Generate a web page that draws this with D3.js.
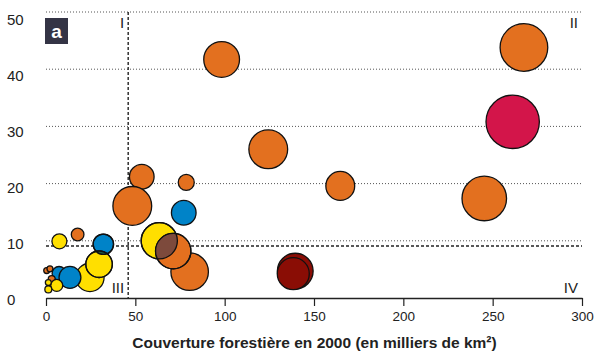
<!DOCTYPE html>
<html>
<head>
<meta charset="utf-8">
<script src="https://cdn.jsdelivr.net/npm/d3@7"></script>
<style>
  html, body { margin: 0; padding: 0; background: #fff; }
  svg { display: block; font-family: "Liberation Sans", Arial, Helvetica, sans-serif; }
</style>
</head>
<body>
<svg id="chart" width="594" height="352"></svg>
<script>
// Couverture forestière (milliers de km²) en abscisse, indicateur en ordonnée
const couverture = [98.3, 267.5, 261.2, 124.4, 164.7, 245.3, 78.5, 77.1, 53.6, 48.3,
                    80.4, 63.4, 71.2, 139.5, 138.4, 7.5, 17.7, 32.1, 24.6, 29.7,
                    7.3, 13.4, 0.4, 2.2, 3.2, 6.0, 1.3, 1.3];
const indicateur = [41.7, 43.8, 30.8, 26.0, 19.6, 17.4, 20.2, 14.9, 21.2, 16.1,
                    4.6, 10.0, 8.2, 4.7, 4.25, 9.9, 11.1, 9.4, 3.6, 5.9,
                    4.3, 3.6, 4.8, 5.1, 3.3, 2.2, 2.7, 1.5];
const taille = [40, 71, 89, 47, 26, 62, 8, 19, 19, 47,
                44, 41, 39, 40, 32, 7, 5, 13, 25, 22,
                6, 15, 1.1, 1.1, 1.5, 4.5, 1.1, 1.5];
const groupe = ["orange", "orange", "rouge", "orange", "orange", "orange", "orange", "bleu", "orange", "orange",
                "orange", "jaune", "orange", "bordeaux", "bordeaux", "jaune", "orange", "bleu", "jaune", "jaune",
                "bleu", "bleu", "orange", "orange", "orange", "jaune", "jaune", "jaune"];
// Paires de cercles dont la zone commune est teintée
const chevauchements = [[11, 12, "#7d4a3c"], [19, 17, "#1d5a4b"]];

const groupes = ["orange", "rouge", "jaune", "bleu", "bordeaux"];
const couleursGroupes = ["#e3701f", "#d3154a", "#ffdf00", "#0083c8", "#8a0d05"];

const xTicks = [0, 50, 100, 150, 200, 250, 300];
const yTicks = [0, 10, 20, 30, 40, 50];
const grilleY = [10, 20, 30, 40, 50];
const seuilX = 46;     // ligne verticale de partage
const seuilY = 9.1;    // ligne horizontale de partage
const quadrants = [["I", 46, 50], ["II", 300, 50], ["III", 46, 0], ["IV", 300, 0]];

const svg = d3.select("#chart");
const x = d3.scaleLinear().domain([0, 300]).range([46, 582]);
const y = d3.scaleLinear().domain([0, 50]).range([298, 12]);
const yLabel = d3.scaleLinear().domain([0, 50]).range([304.5, 24.5]);
const r = d3.scaleSqrt().domain([0, 200]).range([0, 40]);
const color = d3.scaleOrdinal().domain(groupes).range(couleursGroupes);

// Grille pointillée
svg.append("g").selectAll("line").data(grilleY).join("line")
  .attr("x1", x(0)).attr("x2", x(300))
  .attr("y1", d => y(d)).attr("y2", d => y(d))
  .attr("stroke", "#555").attr("stroke-width", 1).attr("stroke-dasharray", "1,2");

// Lignes de partage en tirets
svg.append("line")
  .attr("x1", x(0)).attr("x2", x(300)).attr("y1", y(seuilY)).attr("y2", y(seuilY))
  .attr("stroke", "#222").attr("stroke-width", 1.4).attr("stroke-dasharray", "3,2");
svg.append("line")
  .attr("x1", x(seuilX)).attr("x2", x(seuilX)).attr("y1", y(50)).attr("y2", y(0))
  .attr("stroke", "#222").attr("stroke-width", 1.4).attr("stroke-dasharray", "3,2");

// Axe des abscisses
const xAxis = svg.append("g").attr("transform", `translate(0,${y(0)})`)
  .call(d3.axisBottom(x).tickValues(xTicks).tickSize(8).tickSizeOuter(0).tickPadding(5));
xAxis.select(".domain").attr("stroke", "#222").attr("stroke-width", 1.3);
xAxis.selectAll(".tick line").attr("stroke", "#222").attr("stroke-width", 1.2);
xAxis.selectAll(".tick text").attr("font-size", 13.5).attr("fill", "#222")
  .attr("font-family", "'Liberation Sans', Arial, sans-serif");

// Étiquettes de l'axe des ordonnées
svg.append("g").selectAll("text").data(yTicks).join("text")
  .attr("x", 7).attr("y", d => yLabel(d))
  .attr("font-size", 15).attr("fill", "#222")
  .text(d => d);

// Titre de l'axe
svg.append("text")
  .attr("x", 314.5).attr("y", 348).attr("text-anchor", "middle")
  .attr("font-size", 15.5).attr("font-weight", "bold").attr("fill", "#222")
  .text("Couverture forestière en 2000 (en milliers de km²)");

// Bulles
const idx = d3.range(couverture.length);
const defs = svg.append("defs");
svg.append("g").selectAll("circle").data(idx).join("circle")
  .attr("cx", i => x(couverture[i])).attr("cy", i => y(indicateur[i]))
  .attr("r", i => r(taille[i]))
  .attr("fill", i => color(groupe[i]))
  .attr("stroke", "#111").attr("stroke-width", 1.3);

// Zones de recouvrement
chevauchements.forEach(([a, b, c], k) => {
  defs.append("clipPath").attr("id", "clip" + k)
    .append("circle")
    .attr("cx", x(couverture[a])).attr("cy", y(indicateur[a])).attr("r", r(taille[a]));
  svg.append("circle")
    .attr("clip-path", `url(#clip${k})`)
    .attr("cx", x(couverture[b])).attr("cy", y(indicateur[b])).attr("r", r(taille[b]))
    .attr("fill", c);
  [a, b].forEach(i => svg.append("circle")
    .attr("cx", x(couverture[i])).attr("cy", y(indicateur[i])).attr("r", r(taille[i]))
    .attr("fill", "none").attr("stroke", "#111").attr("stroke-width", 1.3));
});

// Numéros des quadrants
svg.append("g").selectAll("text").data(quadrants).join("text")
  .attr("x", d => d[1] === 300 ? x(300) - 4 : x(seuilX) - 4)
  .attr("y", d => d[2] === 50 ? 28 : 293)
  .attr("text-anchor", "end")
  .attr("font-size", 15).attr("fill", "#222")
  .text(d => d[0]);

// Repère du panneau
svg.append("rect").attr("x", 45).attr("y", 18).attr("width", 23).attr("height", 26).attr("fill", "#343445");
svg.append("text").attr("x", 56.5).attr("y", 37.5).attr("text-anchor", "middle")
  .attr("font-size", 19).attr("font-weight", "bold").attr("fill", "#fff").text("a");
</script>
</body>
</html>
